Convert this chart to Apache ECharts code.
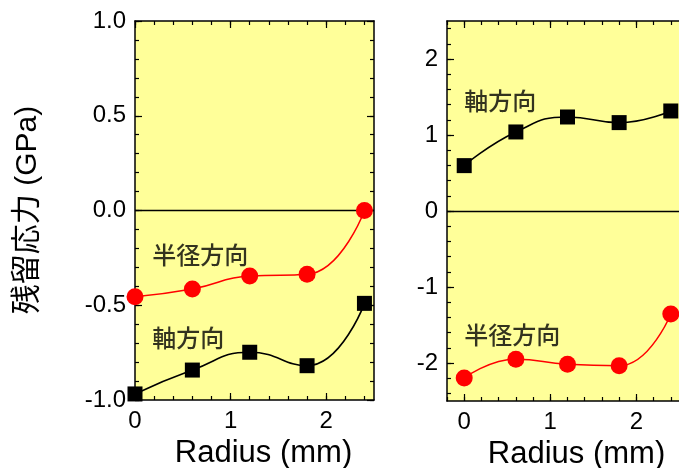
<!DOCTYPE html>
<html>
<head>
<meta charset="utf-8">
<script src="https://cdn.jsdelivr.net/npm/echarts@6/dist/echarts.min.js"></script>
<style>
  html, body { margin: 0; padding: 0; background: #ffffff; }
  #chart { width: 679px; height: 468px; }
</style>
</head>
<body>
<div id="chart"></div>
<script>
// Measurement positions (mm)
const radius = [0, 0.6, 1.2, 1.8, 2.4];

// Left panel residual stress (GPa)
const leftRadial = [-0.455, -0.414, -0.346, -0.337, 0.0];
const leftAxial  = [-0.968, -0.842, -0.748, -0.819, -0.49];

// Right panel residual stress (GPa)
const rightAxial  = [0.597, 1.04, 1.237, 1.163, 1.316];
const rightRadial = [-2.197, -1.95, -2.017, -2.035, -1.355];

// Tick labels
const leftXTicks  = [0, 1, 2];
const leftYTicks  = [-1.0, -0.5, 0.0, 0.5, 1.0];
const rightXTicks = [0, 1, 2];
const rightYTicks = [-2, -1, 0, 1, 2];

// Texts
const yTitle = '残留応力 (GPa)';
const xTitle = 'Radius (mm)';
const labelRadial = '半径方向';
const labelAxial = '軸方向';

const LATIN = "'Liberation Sans', Arial, sans-serif";
const CJK = "'Liberation Sans', 'Noto Sans CJK JP', sans-serif";
const AXIS_COLOR = '#000000';
const PLOT_BG = '#FFFF99';

// Minor tick positions every `step` inside [min, max]
function steps(min, max, step) {
  const out = [];
  for (let i = Math.ceil(min / step - 1e-9); i <= Math.floor(max / step + 1e-9); i++) {
    out.push(Math.round(i * step * 1e6) / 1e6);
  }
  return out;
}

// Four x axes per panel: labelled bottom, minor bottom, mirrored top (major + minor)
function buildXAxes(grid, min, max, major, minorStep, fmt) {
  const minor = steps(min, max, minorStep);
  const base = {
    type: 'value', gridIndex: grid, min: min, max: max,
    splitLine: { show: false },
    axisLine: { show: true, onZero: false, lineStyle: { color: AXIS_COLOR, width: 1.5 } }
  };
  const tick = (vals, len) => ({ show: true, inside: true, length: len, customValues: vals,
                                  lineStyle: { color: AXIS_COLOR, width: 1.2 } });
  return [
    Object.assign({}, base, {
      position: 'bottom',
      axisTick: tick(major, 7),
      axisLabel: { show: true, customValues: major, formatter: fmt, margin: 9,
                   fontSize: 24, fontFamily: LATIN, color: '#000' },
      name: xTitle, nameLocation: 'middle', nameGap: 36,
      nameTextStyle: { fontSize: 31, fontFamily: LATIN, color: '#000', padding: [0, 0, 0, 18] }
    }),
    Object.assign({}, base, { position: 'bottom', axisLine: { show: false, onZero: false },
      axisTick: tick(minor, 4), axisLabel: { show: false } }),
    Object.assign({}, base, { position: 'top', axisTick: tick(major, 7), axisLabel: { show: false } }),
    Object.assign({}, base, { position: 'top', axisLine: { show: false, onZero: false },
      axisTick: tick(minor, 4), axisLabel: { show: false } })
  ];
}

// Four y axes per panel: labelled left, minor left, mirrored right (major + minor)
function buildYAxes(grid, min, max, major, minorStep, fmt) {
  const minor = steps(min, max, minorStep);
  const base = {
    type: 'value', gridIndex: grid, min: min, max: max,
    splitLine: { show: false },
    axisLine: { show: true, onZero: false, lineStyle: { color: AXIS_COLOR, width: 1.5 } }
  };
  const tick = (vals, len) => ({ show: true, inside: true, length: len, customValues: vals,
                                  lineStyle: { color: AXIS_COLOR, width: 1.2 } });
  return [
    Object.assign({}, base, {
      position: 'left',
      axisTick: tick(major, 7),
      axisLabel: { show: true, customValues: major, formatter: fmt, margin: 9,
                   fontSize: 24, fontFamily: LATIN, color: '#000' }
    }),
    Object.assign({}, base, { position: 'left', axisLine: { show: false, onZero: false },
      axisTick: tick(minor, 4), axisLabel: { show: false } }),
    Object.assign({}, base, { position: 'right', axisTick: tick(major, 7), axisLabel: { show: false } }),
    Object.assign({}, base, { position: 'right', axisLine: { show: false, onZero: false },
      axisTick: tick(minor, 4), axisLabel: { show: false } })
  ];
}

const pairs = (xs, ys) => xs.map((x, i) => [x, ys[i]]);

function curve(name, xi, yi, values, color, symbol, size, width, zeroLine) {
  const s = {
    name: name, type: 'line', xAxisIndex: xi, yAxisIndex: yi,
    data: pairs(radius, values), smooth: 0.5, clip: false,
    symbol: symbol, symbolSize: size, showSymbol: true,
    itemStyle: { color: color }, lineStyle: { color: color, width: width },
    emphasis: { disabled: true }, z: 3
  };
  if (zeroLine) {
    s.markLine = {
      silent: true, symbol: 'none', label: { show: false },
      lineStyle: { color: '#000', width: 1.3, type: 'solid' },
      data: [{ yAxis: 0 }], z: 1
    };
  }
  return s;
}

// Text annotations placed in data units of each panel
function note(xi, yi, x, y, text) {
  return {
    type: 'scatter', xAxisIndex: xi, yAxisIndex: yi, symbolSize: 0, silent: true,
    data: [[x, y, text]], z: 4,
    label: { show: true, position: 'right', distance: 0, formatter: p => p.data[2],
             fontSize: 24, fontWeight: 500, fontFamily: CJK, color: '#000' }
  };
}

const chart = echarts.init(document.getElementById('chart'), null, { renderer: 'canvas' });

chart.setOption({
  animation: false,
  backgroundColor: '#ffffff',
  grid: [
    { left: 135, top: 21, width: 239, height: 379, show: true, backgroundColor: PLOT_BG,
      borderWidth: 0, containLabel: false, outerBoundsMode: 'none' },
    { left: 447, top: 21, width: 241, height: 380, show: true, backgroundColor: PLOT_BG,
      borderWidth: 0, containLabel: false, outerBoundsMode: 'none' }
  ],
  xAxis: [].concat(
    buildXAxes(0, 0, 2.5, leftXTicks, 0.2, v => String(v)),
    buildXAxes(1, -0.2, 2.6, rightXTicks, 0.2, v => String(v))
  ),
  yAxis: [].concat(
    buildYAxes(0, -1, 1, leftYTicks, 0.1, v => v.toFixed(1)),
    buildYAxes(1, -2.5, 2.5, rightYTicks, 0.2, v => String(v))
  ),
  graphic: [{
    type: 'text', x: 28, y: 210, rotation: Math.PI / 2,
    style: { text: yTitle, fontSize: 30, fontFamily: CJK, fill: '#000',
             align: 'center', verticalAlign: 'middle', textAlign: 'center', textVerticalAlign: 'middle' }
  }],
  series: [
    curve('半径方向', 0, 0, leftRadial, '#FF0000', 'circle', 17, 1.5, true),
    curve('軸方向', 0, 0, leftAxial, '#000000', 'rect', 15, 1.6, false),
    curve('軸方向', 4, 4, rightAxial, '#000000', 'rect', 15, 1.6, true),
    curve('半径方向', 4, 4, rightRadial, '#FF0000', 'circle', 17, 1.5, false),
    note(0, 0, 0.18, -0.245, labelRadial),
    note(0, 0, 0.18, -0.683, labelAxial),
    note(4, 4, 0.0, 1.417, labelAxial),
    note(4, 4, 0.0, -1.66, labelRadial)
  ]
});
</script>
</body>
</html>
